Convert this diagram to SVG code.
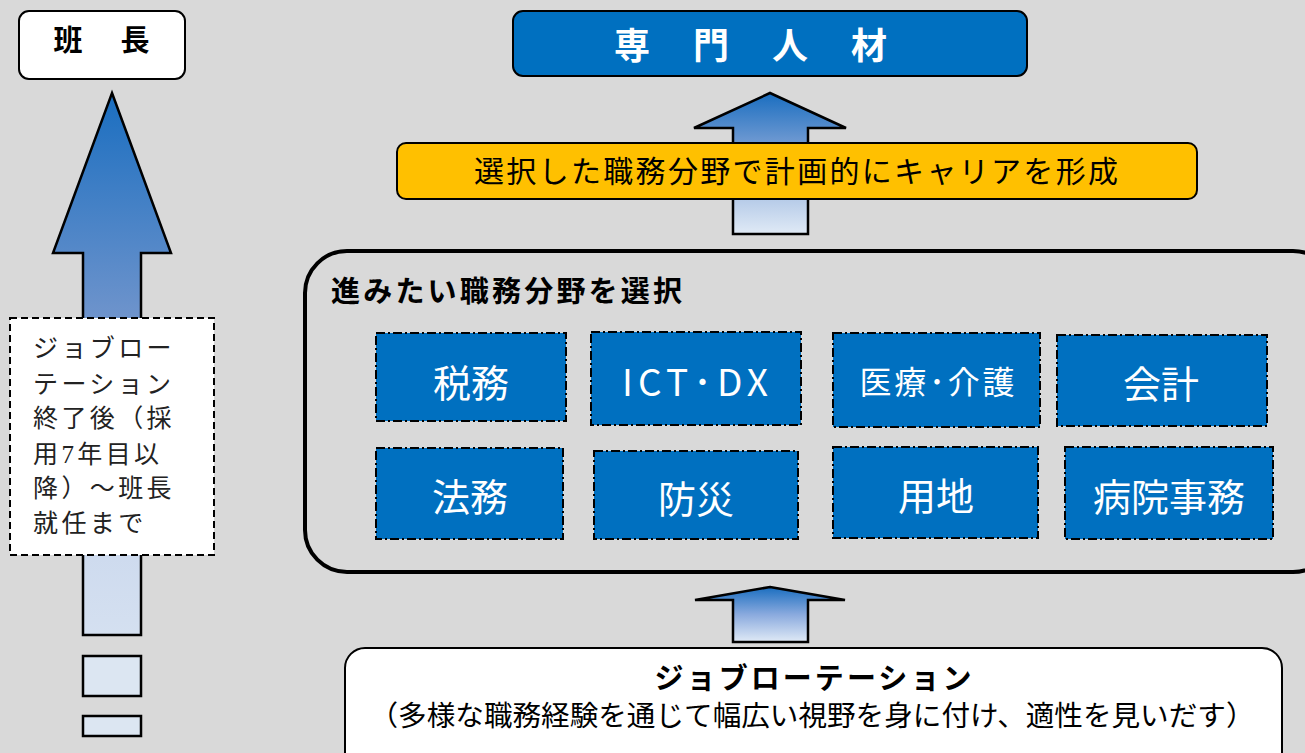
<svg xmlns="http://www.w3.org/2000/svg" width="1305" height="753" viewBox="0 0 1305 753">
<defs>
<linearGradient id="gLeft" gradientUnits="userSpaceOnUse" x1="0" y1="93" x2="0" y2="740">
<stop offset="0" stop-color="#1a6ec0"/>
<stop offset="0.35" stop-color="#6f94cc"/>
<stop offset="0.7" stop-color="#cddaee"/>
<stop offset="1" stop-color="#dde7f3"/>
</linearGradient>
<linearGradient id="gTop" gradientUnits="userSpaceOnUse" x1="0" y1="93" x2="0" y2="234">
<stop offset="0" stop-color="#1a6ec0"/>
<stop offset="0.4" stop-color="#7a9fd4"/>
<stop offset="1" stop-color="#e0eaf6"/>
</linearGradient>
<linearGradient id="gBot" gradientUnits="userSpaceOnUse" x1="0" y1="587" x2="0" y2="642">
<stop offset="0" stop-color="#1a6ec0"/>
<stop offset="0.5" stop-color="#8aaade"/>
<stop offset="1" stop-color="#e0eaf6"/>
</linearGradient>
<style>
.jp{font-family:"Noto Sans CJK JP","Noto Sans",sans-serif;}
.field{fill:#0070c0;stroke:#000;stroke-width:2;stroke-dasharray:9 3 2 3;}
.ft{fill:#fff;font-size:38px;text-anchor:middle;dominant-baseline:central;}
.arrow{stroke:#000;stroke-width:2.5;stroke-linejoin:miter;}
</style>
</defs>
<rect x="0" y="0" width="1305" height="753" fill="#d9d9d9"/>

<g id="connectors">
<path class="arrow" fill="url(#gLeft)" d="M112,93 L171,253 L141,253 L141,635 L83,635 L83,253 L53,253 Z"/>
<rect class="arrow" fill="#dce6f2" x="83" y="656" width="58" height="40"/>
<rect class="arrow" fill="#dce6f2" x="83" y="716" width="58" height="20"/>
<path class="arrow" fill="url(#gTop)" d="M770,93 L846,128 L808,128 L808,234 L733,234 L733,128 L694,128 Z"/>
<path class="arrow" fill="url(#gBot)" d="M770,587 L845,600 L808,600 L808,642 L733,642 L733,600 L695,600 Z"/>
</g>

<g id="hancho">
<rect x="19" y="11" width="166" height="68" rx="10" fill="#fff" stroke="#000" stroke-width="2"/>
<text class="jp" x="68 135" y="38" font-size="29" font-weight="bold" text-anchor="middle" dominant-baseline="central">班長</text>
</g>

<g id="note">
<rect x="10" y="318" width="204" height="237" fill="#fff" stroke="#000" stroke-width="2" stroke-dasharray="7 4"/>
<g font-family="Liberation Serif, Noto Sans CJK JP, serif" font-size="25" letter-spacing="3.4" fill="#222" dominant-baseline="central">
<text x="33" y="348">ジョブロー</text>
<text x="33" y="384">テーション</text>
<text x="33" y="418">終了後（採</text>
<text x="33" y="454">用7年目以</text>
<text x="33" y="488">降）～班長</text>
<text x="33" y="523">就任まで</text>
</g>
</g>

<g id="senmon">
<rect x="513" y="11" width="514" height="65" rx="10" fill="#0070c0" stroke="#000" stroke-width="2"/>
<text class="jp" x="632 711 790 869" y="43" font-size="36" font-weight="bold" fill="#fff" text-anchor="middle" dominant-baseline="central">専門人材</text>
</g>

<g id="career">
<rect x="397" y="143" width="800" height="56" rx="9" fill="#ffc000" stroke="#000" stroke-width="2"/>
<text class="jp" x="796" y="169" font-size="30" fill="#000" text-anchor="middle" dominant-baseline="central" textLength="644">選択した職務分野で計画的にキャリアを形成</text>
</g>

<g id="select">
<rect x="305" y="251" width="1030" height="321" rx="42" fill="none" stroke="#000" stroke-width="4"/>
<text class="jp" x="331" y="289" font-size="29" font-weight="bold" fill="#000" dominant-baseline="central" textLength="351">進みたい職務分野を選択</text>
</g>

<g id="zeimu"><rect class="field" x="376" y="333" width="190" height="88"/><text class="jp ft" x="471" y="380">税務</text></g>
<g id="ict"><rect class="field" x="591" y="332" width="210" height="93"/><text class="jp ft" x="695" y="380" style="font-size:37px" textLength="146">ICT･DX</text></g>
<g id="iryo"><rect class="field" x="833" y="333" width="207" height="94"/><text class="jp ft" x="937" y="380" style="font-size:32px" textLength="155">医療･介護</text></g>
<g id="kaikei"><rect class="field" x="1057" y="335" width="210" height="91"/><text class="jp ft" x="1161" y="381">会計</text></g>
<g id="homu"><rect class="field" x="376" y="448" width="187" height="91"/><text class="jp ft" x="470" y="494">法務</text></g>
<g id="bosai"><rect class="field" x="594" y="451" width="204" height="88"/><text class="jp ft" x="696" y="496">防災</text></g>
<g id="yochi"><rect class="field" x="833" y="447" width="205" height="91"/><text class="jp ft" x="936" y="493">用地</text></g>
<g id="byoin"><rect class="field" x="1065" y="447" width="208" height="92"/><text class="jp ft" x="1169" y="494">病院事務</text></g>

<g id="jobrot">
<rect x="345" y="648" width="937" height="125" rx="20" fill="#fff" stroke="#000" stroke-width="2"/>
<text class="jp" x="813" y="676" font-size="29" font-weight="bold" fill="#000" text-anchor="middle" dominant-baseline="central" textLength="317">ジョブローテーション</text>
<text class="jp" x="812" y="714" font-size="28" fill="#000" text-anchor="middle" dominant-baseline="central" textLength="885" lengthAdjust="spacingAndGlyphs">（多様な職務経験を通じて幅広い視野を身に付け、適性を見いだす）</text>
</g>
</svg>
